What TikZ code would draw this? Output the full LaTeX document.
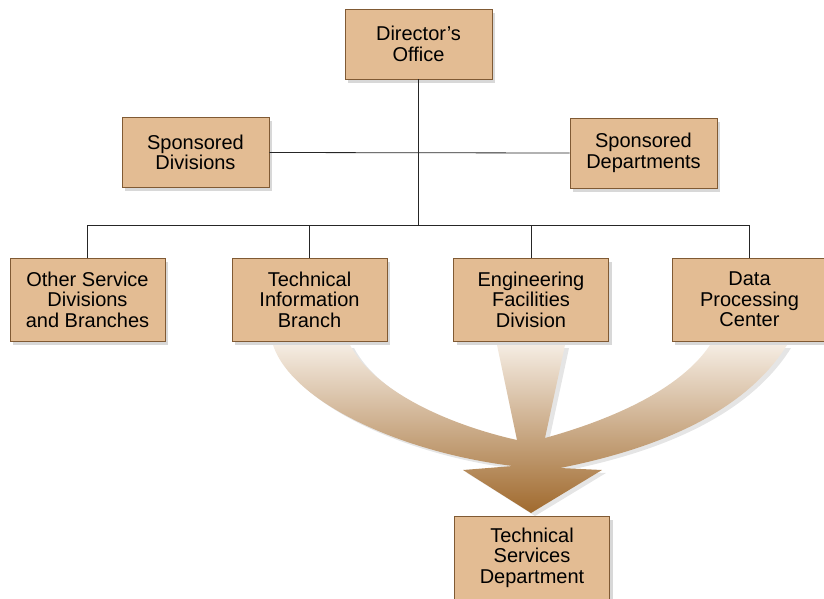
\documentclass[tikz,border=0pt]{standalone}
\usepackage{fontspec}
\setmainfont{Liberation Sans}
\usetikzlibrary{
    shadows,    % For drop shadows under the boxes
    positioning % For relative placement
}
\definecolor{boxfill}{RGB}{227,188,147}
\definecolor{boxedge}{RGB}{128,90,52}
\definecolor{flowtop}{RGB}{245,236,226}
\definecolor{flowmid}{RGB}{214,172,124}
\definecolor{flowbot}{RGB}{160,106,46}

\begin{document}
\begin{tikzpicture}[
    x=1pt, y=-1pt, % pixel-like units, y pointing down
    unit/.style={draw=boxedge, line width=0.9pt, fill=boxfill,
        minimum width=147pt, minimum height=70pt, align=center,
        font=\fontsize{20}{20.5}\selectfont, inner sep=2pt,
        drop shadow={shadow xshift=3pt, shadow yshift=-3.5pt, opacity=0.22, fill=black!70}},
    branch/.style={unit, minimum width=155pt, minimum height=83pt},
    link/.style={line width=0.8pt, black!85}
]
    \useasboundingbox (0,0) rectangle (824,598);

    % Arrow shape (coordinates in pixels)
    \def\flowpath{(273,345) .. controls (292,402) and (400,452) .. (513,466)
        -- (463,470) -- (531,513) -- (602,470) -- (560,468)
        .. controls (640,452) and (740,420) .. (787,345) -- (710,345)
        .. controls (680,390) and (610,420) .. (545,438)
        -- (565,345) -- (497,345) -- (517,440)
        .. controls (450,425) and (375,392) .. (350,345) -- cycle}

    % --- Merging arrow (drawn first, boxes sit on top) ---
    \fill[black, opacity=0.10, xshift=4pt, yshift=-3pt] \flowpath;
    \shade[top color=flowtop, middle color=flowmid, bottom color=flowbot] \flowpath;

    % --- Boxes ---
    \node[unit] (dir) at (418.5,44) {Director's\\Office};
    \node[unit] (spdiv) at (195.5,152.5) {Sponsored\\Divisions};
    \node[unit] (spdep) at (643.5,153) {Sponsored\\Departments};

    \node[branch] (osd) at (87.5,299.5) {Other Service\\Divisions\\and Branches};
    \node[branch] (tib) at (309.5,299.5) {Technical\\Information\\Branch};
    \node[branch] (efd) at (531,299.5) {Engineering\\Facilities\\Division};
    \node[branch] (dpc) at (749.5,299.5) {Data\\Processing\\Center};

    \node[branch] (tsd) at (532,557.5) {Technical\\Services\\Department};

    % --- Connectors ---
    \coordinate (bus) at (418.5,225);
    \draw[link] (dir.south) -- (bus);
    \draw[link] (spdiv.east) -- (spdep.west);
    \draw[link] (osd.north) -- (osd.north |- bus) -- (dpc.north |- bus) -- (dpc.north);
    \draw[link] (tib.north) -- (tib.north |- bus);
    \draw[link] (efd.north) -- (efd.north |- bus);

\end{tikzpicture}
\end{document}
